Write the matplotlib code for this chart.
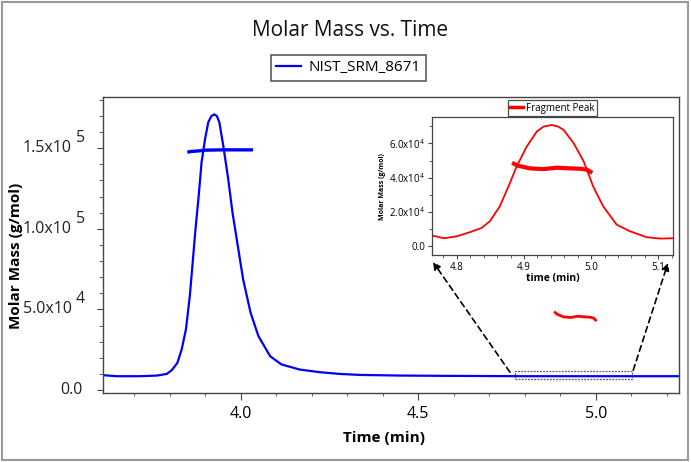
import matplotlib
matplotlib.use('Agg')
import matplotlib.pyplot as plt
from matplotlib.patches import Rectangle
from matplotlib.ticker import MultipleLocator, FixedLocator, FixedFormatter
from matplotlib.transforms import ScaledTranslation

plt.rcParams['font.family'] = ['Open Sans', 'DejaVu Sans']
plt.rcParams['mathtext.fontset'] = 'custom'
plt.rcParams['mathtext.rm'] = 'Open Sans'

# main chromatogram (NIST_SRM_8671), time in min
blue_t = [3.604, 3.651, 3.717, 3.764, 3.792, 3.806, 3.822, 3.834, 3.846, 3.857,
          3.865, 3.873, 3.882, 3.890, 3.900, 3.909, 3.918, 3.926, 3.933, 3.940,
          3.951, 3.965, 3.977, 3.992, 4.007, 4.028, 4.050, 4.083, 4.115, 4.167,
          4.223, 4.280, 4.336, 4.45, 4.6, 4.8, 5.0, 5.24]
blue_v = [9400, 8600, 8600, 9000, 10000, 12300, 16900, 25200, 37600, 58400,
          79100, 99900, 120600, 141300, 155900, 166200, 170000, 171000, 170000, 166200,
          151700, 131000, 110200, 89500, 68700, 48000, 33500, 21000, 15900, 12700,
          11100, 10000, 9400, 9000, 8800, 8600, 8600, 8600]

# molar mass across main peak
mm_t = [3.850, 3.860, 3.880, 3.900, 3.950, 4.000, 4.035]
mm_v = [147500, 148000, 148300, 148800, 149000, 149000, 149000]

# fragment peak molar mass
frag_mm_t = [4.885, 4.892, 4.909, 4.929, 4.949, 4.969, 4.984, 4.994, 4.999]
frag_mm_v = [48100, 46900, 45400, 45000, 45800, 45400, 45200, 44600, 43400]

# fragment peak detector trace (inset)
frag_t = [4.763, 4.781, 4.800, 4.819, 4.837, 4.849, 4.864, 4.879, 4.889, 4.904,
          4.919, 4.929, 4.941, 4.951, 4.959, 4.974, 4.989, 5.003, 5.018, 5.038,
          5.058, 5.083, 5.103, 5.122]
frag_v = [6220, 4650, 5800, 8140, 10700, 14500, 23250, 36850, 46500, 58100,
          66860, 69770, 70750, 69770, 67850, 60100, 49400, 34900, 23250, 12600,
          8700, 5230, 4480, 4650]

# zoom box in main axes
box_t = [4.772, 5.102]
box_v = [7150, 11700]

yticks = [0, 50000, 100000, 150000]
ytick_base = ['0.0', '5.0x10', '1.0x10', '1.5x10']
ytick_exp = ['', '4', '5', '5']
inset_yticks = [0, 20000, 40000, 60000]
inset_ylabels = ['0.0', r'2.0x10$^{4}$', r'4.0x10$^{4}$', r'6.0x10$^{4}$']

fig = plt.figure(figsize=(6.91, 4.62), dpi=100)
fig.patches.append(Rectangle((0.003, 0.004), 0.993, 0.992, transform=fig.transFigure,
                             fill=False, ec='#999999', lw=1.5))

ax = fig.add_axes([0.149, 0.1487, 0.834, 0.6407])
ax.plot(blue_t, blue_v, color='#0000ff', lw=1.6, solid_joinstyle='round', label='NIST_SRM_8671')
ax.plot(mm_t, mm_v, color='#0000ff', lw=2.4, solid_capstyle='butt')
ax.plot(frag_mm_t, frag_mm_v, color='#ff0000', lw=2.0)
ax.add_patch(Rectangle((box_t[0], box_v[0]), box_t[1] - box_t[0], box_v[1] - box_v[0],
                       fill=False, ec='#555555', lw=0.9, ls=(0, (1.5, 1.0))))
ax.set_xlim(3.6125, 5.2345)
ax.set_ylim(-2000, 181600)
ax.xaxis.set_major_locator(FixedLocator([4.0, 4.5, 5.0]))
ax.xaxis.set_major_formatter(FixedFormatter(['4.0', '4.5', '5.0']))
ax.xaxis.set_minor_locator(MultipleLocator(0.1))
ax.yaxis.set_major_locator(FixedLocator(yticks))
ax.yaxis.set_major_formatter(FixedFormatter([''] * len(yticks)))
ax.yaxis.set_minor_locator(MultipleLocator(10000))
ax.tick_params(which='both', direction='out', color='#444444', labelsize=11.5, top=False, right=False)
ax.tick_params(axis='y', which='major', length=4)
ax.tick_params(axis='y', which='minor', length=3)
ax.tick_params(axis='x', which='major', length=5, pad=4)
ax.tick_params(axis='x', which='minor', length=2.5)
for s in ax.spines.values():
    s.set_color('#444444')
    s.set_linewidth(1.0)

# y tick labels written as base + raised exponent, like the original software
ytr = ax.get_yaxis_transform()
exp_tr = ytr + ScaledTranslation(0, 10 / 100, fig.dpi_scale_trans)
for v, b, e in zip(yticks, ytick_base, ytick_exp):
    if e:
        ax.text(-0.054, v, b, transform=ytr, ha='right', va='center', fontsize=11.5, color='#222222')
        ax.text(-0.031, v, e, transform=exp_tr, ha='right', va='center', fontsize=11.5, color='#222222')
    else:
        ax.text(-0.036, v, b, transform=ytr, ha='right', va='center', fontsize=11.5, color='#222222')

ax.set_xlabel('Time (min)', fontsize=11, fontweight='bold')
ax.xaxis.set_label_coords(0.488, -0.128)
ax.set_ylabel('Molar Mass (g/mol)', fontsize=11, fontweight='bold')
ax.yaxis.set_label_coords(-0.139, 0.464)

fig.text(0.507, 0.933, 'Molar Mass vs. Time', ha='center', va='center', fontsize=15, color='#111111')
leg = fig.legend(loc='center', bbox_to_anchor=(0.504, 0.853), fontsize=11, handlelength=1.6,
                 fancybox=False, edgecolor='#222222', borderpad=0.35, handletextpad=0.5)
leg.get_frame().set_linewidth(1.1)

# inset
ins = fig.add_axes([0.6252, 0.447, 0.3488, 0.2987])
ins.plot(frag_t, frag_v, color='#ff0000', lw=1.3, solid_joinstyle='round', label='Fragment Peak')
ins.plot(frag_mm_t, frag_mm_v, color='#ff0000', lw=3.0)
ins.set_xlim(4.763, 5.122)
ins.set_ylim(-5400, 75100)
ins.xaxis.set_major_locator(FixedLocator([4.8, 4.9, 5.0, 5.1]))
ins.xaxis.set_minor_locator(MultipleLocator(0.02))
ins.yaxis.set_major_locator(FixedLocator(inset_yticks))
ins.yaxis.set_major_formatter(FixedFormatter(inset_ylabels))
ins.yaxis.set_minor_locator(MultipleLocator(10000))
ins.tick_params(which='both', direction='out', color='#444444', labelsize=7, top=False, right=False, pad=2)
ins.tick_params(which='major', length=3)
ins.tick_params(which='minor', length=2)
for s in ins.spines.values():
    s.set_color('#444444')
    s.set_linewidth(0.9)
ins.set_xlabel('time (min)', fontsize=7.5, fontweight='bold', labelpad=0)
ins.set_ylabel('Molar Mass (g/mol)', fontsize=5, fontweight='bold', labelpad=2)
ileg = ins.legend(loc='lower center', bbox_to_anchor=(0.5, 1.01), fontsize=7, handlelength=1.3,
                  fancybox=False, edgecolor='#222222', borderpad=0.25, handletextpad=0.3,
                  borderaxespad=0)
ileg.get_frame().set_linewidth(0.9)
ileg.get_lines()[0].set_linewidth(2.5)

# dashed arrows from zoom box to inset corners
arrow = dict(arrowstyle='-|>', color='black', lw=1.2, ls=(0, (3.5, 2.5)),
             mutation_scale=11, shrinkA=0, shrinkB=0)
ax.annotate('', xy=(0.004, -0.047), xycoords=ins.transAxes,
            xytext=(4.758, 11080), textcoords=ax.transData, arrowprops=arrow)
ax.annotate('', xy=(0.979, -0.054), xycoords=ins.transAxes,
            xytext=(5.105, 12320), textcoords=ax.transData, arrowprops=arrow)

fig.savefig('out.png', dpi=100)
